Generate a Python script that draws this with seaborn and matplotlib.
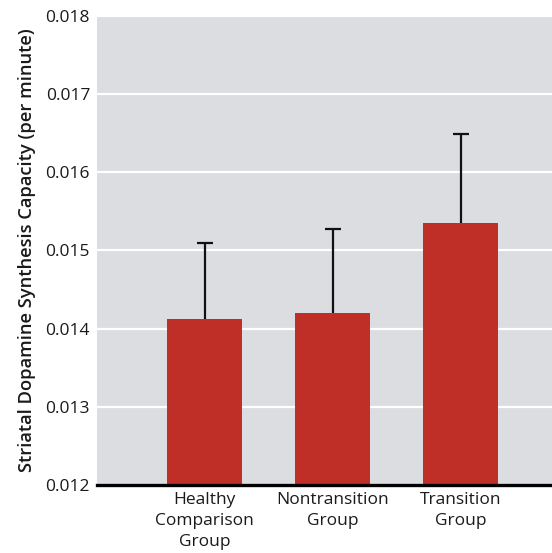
import matplotlib
matplotlib.use("Agg")
import matplotlib.pyplot as plt
import seaborn as sns
import pandas as pd

groups = ["Healthy\nComparison\nGroup", "Nontransition\nGroup", "Transition\nGroup"]
capacity = [0.01412, 0.01420, 0.01535]
sem = [0.00098, 0.00108, 0.00114]
y_ticks = [0.012, 0.013, 0.014, 0.015, 0.016, 0.017, 0.018]

sns.set_theme(style="white")
plt.rcParams["font.family"] = ["Open Sans", "DejaVu Sans"]

df = pd.DataFrame({"group": groups, "capacity": capacity, "sem": sem})

fig = plt.figure(figsize=(5.52, 5.53), dpi=100)
ax = fig.add_axes([0.1757, 0.1230, 0.8243, 0.8481])
ax.set_facecolor("#dcdde0")

sns.barplot(data=df, x="group", y="capacity", color="#c02e28", width=0.586,
            saturation=1, errorbar=None, ax=ax, zorder=3)
for p in ax.patches:
    p.set_edgecolor("none")

# symmetric whiskers; the lower half sits behind the bars
ax.errorbar(range(len(groups)), df["capacity"], yerr=df["sem"],
            fmt="none", ecolor="#111111", elinewidth=1.6, capsize=6, capthick=1.6,
            zorder=2)

ax.set_ylim(0.012, 0.018)
ax.set_xlim(-0.842, 2.713)
ax.set_yticks(y_ticks)
ax.set_yticklabels([f"{v:.3f}" for v in y_ticks])
ax.yaxis.grid(True, color="white", linewidth=1.6, zorder=0)
ax.set_axisbelow(True)

for s in ["top", "right", "left"]:
    ax.spines[s].set_visible(False)
ax.spines["bottom"].set_color("black")
ax.spines["bottom"].set_linewidth(2.4)
ax.spines["bottom"].set_zorder(5)

ax.tick_params(axis="both", length=0, labelsize=12.5, colors="#1a1a1a")
ax.tick_params(axis="y", pad=5)
ax.tick_params(axis="x", pad=5)
for lbl in ax.get_xticklabels():
    lbl.set_linespacing(1.4)

ax.set_xlabel("")
ax.set_ylabel("Striatal Dopamine Synthesis Capacity (per minute)", fontsize=13.2,
              fontweight="semibold", color="#1a1a1a", labelpad=7)

fig.savefig("out.png", dpi=100)
